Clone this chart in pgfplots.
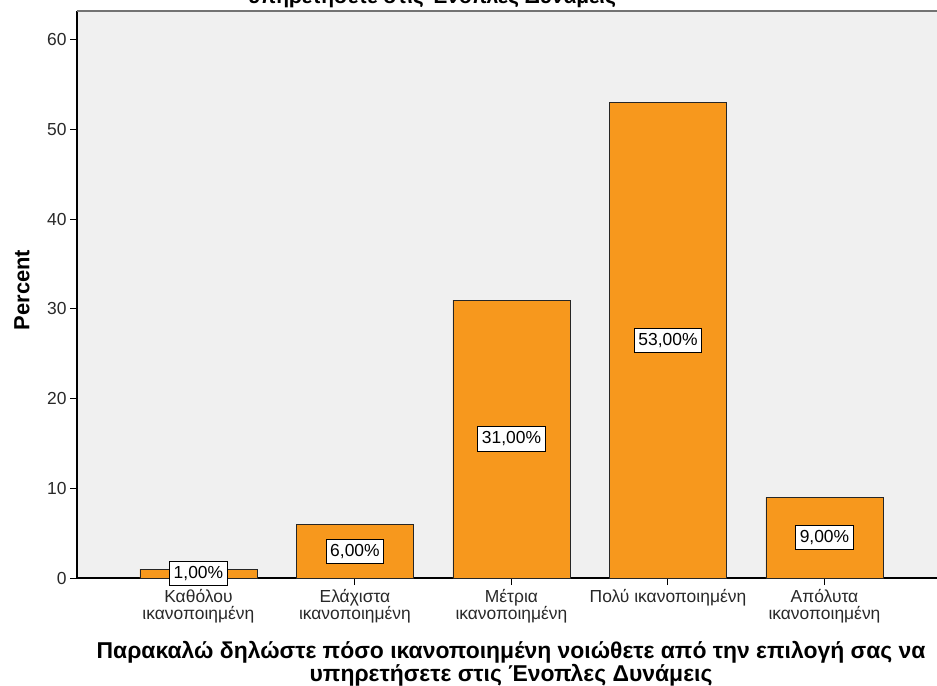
\documentclass[border=0pt]{standalone}
\usepackage{fontspec}
\setmainfont{Liberation Sans}
\usepackage{pgfplots}
\pgfplotsset{compat=1.18}
\definecolor{barorange}{RGB}{247,152,29}
\definecolor{plotbg}{RGB}{240,240,240}
\definecolor{ticktext}{RGB}{40,40,40}

\begin{document}
\begin{tikzpicture}
\begin{axis}[
  at={(77bp,-578bp)}, anchor=south west,
  scale only axis, width=860bp, height=567bp,
  xmin=-0.776, xmax=4.719, ymin=0, ymax=63.23,
  clip=false,
  axis x line*=bottom, axis y line*=left,
  axis line style={black, line width=1.3bp, -},
  axis background/.style={fill=plotbg},
  ytick={0,10,...,60},
  xtick={0,...,4},
  xticklabels={{Καθόλου\\ικανοποιημένη},{Ελάχιστα\\ικανοποιημένη},{Μέτρια\\ικανοποιημένη},{Πολύ ικανοποιημένη},{Απόλυτα\\ικανοποιημένη}},
  x tick label style={align=center, text=ticktext, font=\fontsize{17.5}{17}\selectfont, yshift=-1bp},
  y tick label style={text=ticktext, font=\fontsize{17.5}{17}\selectfont},
  /pgf/number format/assume math mode=true,
  tick style={black, line width=1bp},
  major tick length=7bp,
  tick align=outside,
]
\addplot[ybar, bar width=117bp, fill=barorange, draw=black!85, line width=0.9bp]
  coordinates {(0,1) (1,6) (2,31) (3,53) (4,9)};
% value labels sit at the middle of each bar
\addplot[draw=none, mark=none, forget plot,
  y filter/.expression={y/2},
  point meta=explicit symbolic,
  nodes near coords, nodes near coords align=center,
  every node near coord/.append style={fill=white, draw=black, line width=0.8bp,
    inner xsep=4bp, inner ysep=5bp, text=black,
    font=\fontsize{17.5}{17}\selectfont, anchor=center}]
  coordinates {(0,1) [1,00\%] (1,6) [6,00\%] (2,31) [31,00\%] (3,53) [53,00\%] (4,9) [9,00\%]};
\draw[black!55, line width=2bp] (rel axis cs:0,1) -- (rel axis cs:1,1);
\end{axis}
\node[rotate=90, font=\bfseries\fontsize{22}{22}\selectfont] at (22bp,-290bp) {Percent};
\node[align=center, font=\bfseries\fontsize{23}{20}\selectfont] at (511bp,-664bp)
  {Παρακαλώ δηλώστε πόσο ικανοποιημένη νοιώθετε από την επιλογή σας να\\υπηρετήσετε στις Ένοπλες Δυνάμεις};
\node[anchor=base, font=\bfseries\fontsize{21}{21}\selectfont] at (432bp,-3bp)
  {υπηρετήσετε στις Ένοπλες Δυνάμεις};
\pgfresetboundingbox
\path[use as bounding box] (0,0) rectangle (937bp,-686bp);
\end{tikzpicture}
\end{document}
